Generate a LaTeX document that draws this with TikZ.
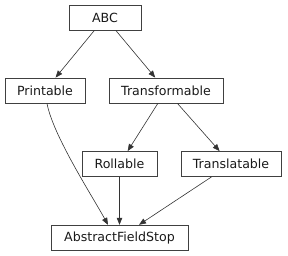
\documentclass[tikz,border=0pt]{standalone}
\usepackage{fontspec}
\setmainfont{DejaVu Sans}
\usetikzlibrary{arrows.meta}
\begin{document}
\begin{tikzpicture}[x=1pt,y=-1pt,
  cls/.style={draw=black!75,line width=0.8pt,inner sep=0pt,minimum height=25pt,
    font=\fontsize{12.6}{14}\selectfont,text=black!90},
  inh/.style={draw=black!80,line width=0.6pt,-{Triangle[length=7pt,width=5.5pt]}}]
\useasboundingbox (0,0) rectangle (288,256);
\node[cls,minimum width=72pt]  (abc) at (105,17.5) {ABC};
\node[cls,minimum width=80pt]  (pr)  at (45,90.5) {Printable};
\node[cls,minimum width=114pt] (tf)  at (166,90.5) {Transformable};
\node[cls,minimum width=75pt]  (ro)  at (119.5,164) {Rollable};
\node[cls,minimum width=100pt] (tr)  at (231,164) {Translatable};
\node[cls,minimum width=137pt] (afs) at (119.5,237.7) {AbstractFieldStop};
\draw[inh] (abc) -- (pr);
\draw[inh] (abc) -- (tf);
\draw[inh] (tf) -- (ro);
\draw[inh] (tf) -- (tr);
\draw[inh] (ro) -- (afs);
\draw[inh] (tr) -- (afs);
\draw[inh] ([xshift=2pt]pr.south) .. controls ([xshift=8pt,yshift=-32pt]pr.south) and ([xshift=-28pt,yshift=30pt]afs.north) .. ([xshift=-11.5pt]afs.north);
\end{tikzpicture}
\end{document}
